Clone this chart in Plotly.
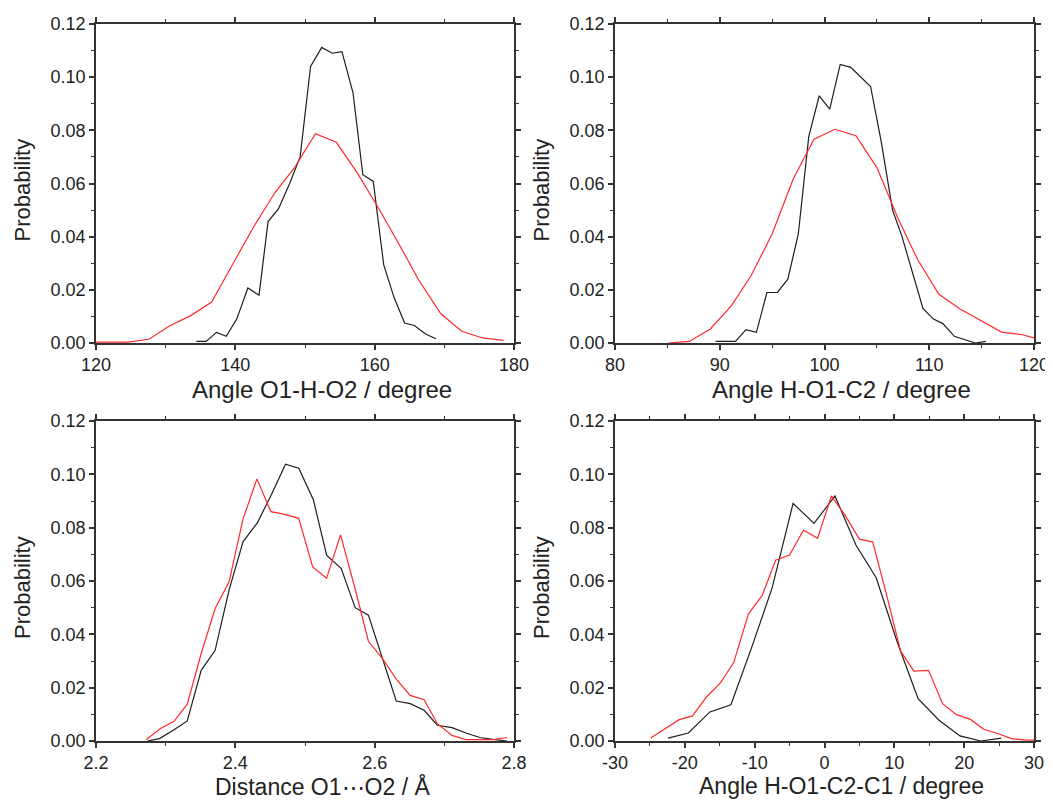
import plotly.graph_objects as go

# ---------------- data ----------------
# Panel 1: Angle O1-H-O2
p1_black_x = [134.4, 135.8, 137.3, 138.7, 140.2, 141.8, 143.4, 144.7, 146.2, 147.8, 149.3, 150.8,
              152.4, 153.9, 155.3, 156.9, 158.3, 159.8, 161.3, 162.8, 164.3, 165.7, 167.3, 168.8]
p1_black_y = [0.0006, 0.0006, 0.0040, 0.0025, 0.0090, 0.0207, 0.0180, 0.0457, 0.0505, 0.0600, 0.0700, 0.1040,
              0.1112, 0.1090, 0.1096, 0.0940, 0.0633, 0.0608, 0.0294, 0.0170, 0.0075, 0.0066, 0.0034, 0.0016]
p1_red_x = [120.0, 124.6, 127.6, 130.6, 133.6, 136.6, 139.7, 142.7, 145.7, 148.5, 151.5, 154.5,
            157.5, 160.5, 163.4, 166.3, 169.5, 172.5, 175.5, 178.5]
p1_red_y = [0.0003, 0.0003, 0.0014, 0.0065, 0.0103, 0.0154, 0.0300, 0.0440, 0.0566, 0.0660, 0.0787, 0.0755,
            0.0640, 0.0510, 0.0376, 0.0238, 0.0110, 0.0044, 0.0019, 0.0010]

# Panel 2: Angle H-O1-C2
p2_black_x = [89.6, 90.6, 91.5, 92.5, 93.5, 94.5, 95.5, 96.5, 97.5, 98.5, 99.5, 100.5, 101.5, 102.5,
              103.5, 104.4, 105.4, 106.5, 107.4, 108.5, 109.4, 110.4, 111.3, 112.4, 113.3, 114.4, 115.4]
p2_black_y = [0.0006, 0.0006, 0.0006, 0.0050, 0.0040, 0.0190, 0.0190, 0.0240, 0.0410, 0.0777, 0.0930, 0.0880,
              0.1048, 0.1037, 0.0998, 0.0965, 0.0760, 0.0500, 0.0400, 0.0250, 0.0130, 0.0090, 0.0073,
              0.0025, 0.0015, 0.0000, 0.0006]
p2_red_x = [85.1, 87.1, 89.1, 91.1, 93.0, 95.0, 97.0, 99.0, 101.0, 103.0, 105.0, 107.0, 108.9, 110.9,
            112.9, 114.9, 116.9, 118.9, 120.0]
p2_red_y = [0.0000, 0.0006, 0.0053, 0.0140, 0.0254, 0.0410, 0.0616, 0.0767, 0.0804, 0.0780, 0.0660, 0.0470,
            0.0313, 0.0184, 0.0129, 0.0084, 0.0041, 0.0031, 0.0019]

# Panel 3: Distance O1...O2
p3_black_x = [2.274, 2.291, 2.311, 2.331, 2.351, 2.371, 2.391, 2.411, 2.432, 2.451, 2.472, 2.491, 2.512,
              2.531, 2.552, 2.572, 2.591, 2.611, 2.631, 2.651, 2.671, 2.690, 2.711, 2.731, 2.751, 2.770, 2.790]
p3_black_y = [0.0000, 0.0009, 0.0040, 0.0075, 0.0265, 0.0340, 0.0566, 0.0747, 0.0820, 0.0920, 0.1038, 0.1023,
              0.0905, 0.0697, 0.0647, 0.0500, 0.0472, 0.0310, 0.0150, 0.0140, 0.0115, 0.0059, 0.0050,
              0.0030, 0.0013, 0.0006, 0.0000]
p3_red_x = [2.272, 2.292, 2.312, 2.331, 2.351, 2.371, 2.391, 2.411, 2.431, 2.451, 2.471, 2.491, 2.511,
            2.531, 2.551, 2.572, 2.591, 2.611, 2.631, 2.651, 2.671, 2.690, 2.711, 2.731, 2.750, 2.770, 2.790]
p3_red_y = [0.0005, 0.0046, 0.0074, 0.0138, 0.0328, 0.0497, 0.0597, 0.0832, 0.0983, 0.0860, 0.0850, 0.0835,
            0.0653, 0.0610, 0.0773, 0.0570, 0.0374, 0.0310, 0.0232, 0.0171, 0.0155, 0.0065, 0.0021,
            0.0005, 0.0005, 0.0005, 0.0013]

# Panel 4: Angle H-O1-C2-C1
p4_black_x = [-22.4, -19.5, -16.4, -13.4, -10.4, -7.5, -4.5, -1.5, 1.5, 4.5, 7.4, 10.4, 13.4, 16.4,
              19.4, 22.4, 25.3]
p4_black_y = [0.0011, 0.0030, 0.0109, 0.0136, 0.0353, 0.0574, 0.0891, 0.0816, 0.0919, 0.0735, 0.0612,
              0.0372, 0.0159, 0.0078, 0.0019, 0.0000, 0.0011]
p4_red_x = [-24.9, -22.8, -20.8, -18.9, -16.9, -14.9, -13.0, -10.9, -8.9, -7.0, -5.0, -3.0, -1.0, 1.0,
            3.0, 5.0, 6.9, 8.9, 10.9, 12.8, 14.9, 16.9, 18.9, 20.9, 22.8, 24.8, 26.8, 28.9, 30.0]
p4_red_y = [0.0011, 0.0046, 0.0080, 0.0094, 0.0165, 0.0218, 0.0294, 0.0476, 0.0547, 0.0678, 0.0697,
            0.0791, 0.0760, 0.0919, 0.0844, 0.0757, 0.0747, 0.0547, 0.0337, 0.0262, 0.0265, 0.0140,
            0.0099, 0.0081, 0.0044, 0.0028, 0.0009, 0.0003, 0.0003]

# axis titles / tick labels
y_title = "Probability"
x_titles = ["Angle O1-H-O2 / degree", "Angle H-O1-C2 / degree",
            "Distance O1\u22efO2 / \u00c5", "Angle H-O1-C2-C1 / degree"]
x_tickvals = [[120, 140, 160, 180], [80, 90, 100, 110, 120],
              [2.2, 2.4, 2.6, 2.8], [-30, -20, -10, 0, 10, 20, 30]]
x_ticktext = [["120", "140", "160", "180"], ["80", "90", "100", "110", "120"],
              ["2.2", "2.4", "2.6", "2.8"], ["-30", "-20", "-10", "0", "10", "20", "30"]]
x_ranges = [[120, 180], [80, 120], [2.2, 2.8], [-30, 30]]
x_minor = [10, 5, 0.1, 5]
y_tickvals = [0.00, 0.02, 0.04, 0.06, 0.08, 0.10, 0.12]
y_ticktext = ["0.00", "0.02", "0.04", "0.06", "0.08", "0.10", "0.12"]

# ---------------- figure ----------------
OFF = 8                      # default page margin of the html body
W, H = 1053 - OFF, 800 - OFF
BLACK = "#1e1e1e"
RED = "#ff2a2a"
AXC = "#333333"
FONT = "Liberation Sans, Arial, sans-serif"


def px(x):
    return (x - OFF) / W


def py(y):
    return 1 - (y - OFF) / H


# plot areas in page pixels: (left, right, top, bottom)
boxes = [(96, 514, 24, 343), (615, 1034, 24, 343), (96, 514, 421, 741), (615, 1034, 421, 741)]
title_gap = [47, 47, 45, 45]
title_size = [24, 24, 23, 23]

series = [(p1_black_x, p1_black_y, p1_red_x, p1_red_y),
          (p2_black_x, p2_black_y, p2_red_x, p2_red_y),
          (p3_black_x, p3_black_y, p3_red_x, p3_red_y),
          (p4_black_x, p4_black_y, p4_red_x, p4_red_y)]

fig = go.Figure()
layout = dict(width=W, height=H, margin=dict(l=0, r=0, t=0, b=0, autoexpand=False),
              paper_bgcolor="white", plot_bgcolor="white", showlegend=False,
              font=dict(family=FONT, color="#222222"))
annotations = []

for i, (bx, by, rx, ry) in enumerate(series):
    n = i + 1
    xa = "x" if n == 1 else f"x{n}"
    ya = "y" if n == 1 else f"y{n}"
    fig.add_trace(go.Scatter(x=bx, y=by, mode="lines", line=dict(color=BLACK, width=1.2),
                             xaxis=xa, yaxis=ya, hoverinfo="skip"))
    fig.add_trace(go.Scatter(x=rx, y=ry, mode="lines", line=dict(color=RED, width=1.2),
                             xaxis=xa, yaxis=ya, hoverinfo="skip"))
    l, r, t, b = boxes[i]
    common = dict(showline=True, linecolor=AXC, linewidth=1.5, mirror="ticks",
                  ticks="outside", ticklen=5, tickwidth=1.5, tickcolor=AXC,
                  showgrid=False, zeroline=False, automargin=False,
                  tickfont=dict(size=18, family=FONT, color="#222222"))
    layout[f"xaxis{'' if n == 1 else n}"] = dict(
        domain=[px(l), px(r)], anchor=ya, range=x_ranges[i],
        tickmode="array", tickvals=x_tickvals[i], ticktext=x_ticktext[i],
        minor=dict(ticks="outside", ticklen=3, tickwidth=1.2, tickcolor=AXC, dtick=x_minor[i],
                   showgrid=False),
        **common)
    layout[f"yaxis{'' if n == 1 else n}"] = dict(
        domain=[py(b), py(t)], anchor=xa, range=[0, 0.12],
        tickmode="array", tickvals=y_tickvals, ticktext=y_ticktext,
        minor=dict(ticks="outside", ticklen=3, tickwidth=1.2, tickcolor=AXC, dtick=0.01,
                   showgrid=False),
        **common)
    # x axis title
    annotations.append(dict(text=x_titles[i], xref="paper", yref="paper",
                            x=px((l + r) / 2 + 17), y=py(b + title_gap[i]),
                            xanchor="center", yanchor="middle", showarrow=False,
                            font=dict(size=title_size[i], family=FONT, color="#222222")))
    # y axis title
    annotations.append(dict(text=y_title, xref="paper", yref="paper",
                            x=px(l - 74), y=py((t + b) / 2 + 7), textangle=-90,
                            xanchor="center", yanchor="middle", showarrow=False,
                            font=dict(size=22, family=FONT, color="#222222")))

layout["annotations"] = annotations
fig.update_layout(**layout)
fig.write_html("out.html")
